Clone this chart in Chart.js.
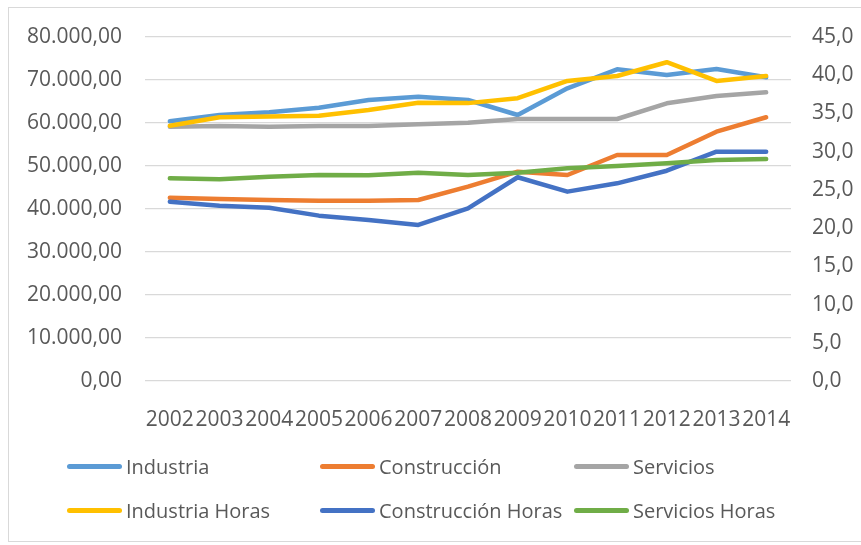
<!DOCTYPE html>
<html>
<head>
<meta charset="utf-8">
<script src="https://cdn.jsdelivr.net/npm/chart.js@4/dist/chart.umd.min.js"></script>
<style>
	body { margin: 0; background: #fff; }
	#wrap { position: relative; width: 861px; height: 545px; overflow: hidden; }
	#frame { position: absolute; left: 8px; top: 7px; width: 860px; height: 535px; border: 1px solid #d9d9d9; box-sizing: border-box; }
	#chartBox { position: absolute; left: 0; top: 0; width: 861px; height: 440px; }
	#legend { position: absolute; left: 0; top: 0; width: 861px; height: 545px; font-family: "Open Sans", sans-serif; font-size: 20px; color: #595959; }
	.item { position: absolute; display: flex; align-items: center; height: 30px; white-space: nowrap; }
	.mark { display: inline-block; width: 55px; height: 5px; border-radius: 3px; margin-right: 4px; }
</style>
</head>
<body>
<div id="wrap">
	<div id="frame"></div>
	<div id="chartBox"><canvas id="chart-area" width="861" height="440"></canvas></div>
	<div id="legend"></div>
</div>
<script>
/*
 * 数据
 */
var years = ["2002", "2003", "2004", "2005", "2006", "2007", "2008", "2009", "2010", "2011", "2012", "2013", "2014"];
var industria = [60400, 61860, 62490, 63560, 65350, 66120, 65350, 61860, 68070, 72490, 71160, 72560, 70630];
var construccion = [42630, 42330, 42090, 41940, 41940, 42090, 45190, 48680, 47910, 52560, 52560, 57980, 61330];
var servicios = [59140, 59300, 59140, 59300, 59300, 59700, 60070, 60930, 60930, 60930, 64580, 66280, 67130];
var industriaHoras = [33.4, 34.5, 34.6, 34.7, 35.45, 36.4, 36.35, 37.0, 39.25, 39.9, 41.7, 39.25, 39.9];
var construccionHoras = [23.45, 22.93, 22.67, 21.63, 21.06, 20.41, 22.59, 26.65, 24.77, 25.86, 27.51, 30.0, 30.0];
var serviciosHoras = [26.52, 26.39, 26.73, 26.95, 26.9, 27.25, 26.95, 27.25, 27.82, 28.13, 28.48, 28.91, 29.04];
var leftTicks = { min: 0, max: 80000, step: 10000 };
var rightTicks = { min: 0, max: 45, step: 5 };

var textColor = "#595959";
var fontSpec = { family: "Open Sans", size: 21 };

function fmtLeft(v) {
	var s = Number(v).toFixed(2).split(".");
	var ent = s[0].replace(/\B(?=(\d{3})+(?!\d))/g, ".");
	return ent + "," + s[1];
}
function fmtRight(v) {
	return Number(v).toFixed(1).replace(".", ",");
}

function serie(label, data, color, axis) {
	return {
		label : label,
		data : data,
		borderColor : color,
		backgroundColor : color,
		borderWidth : 4.5,
		borderCapStyle : "round",
		borderJoinStyle : "round",
		pointRadius : 0,
		tension : 0,
		yAxisID : axis
	};
}

var datasets = [
	serie("Industria", industria, "#5B9BD5", "y"),
	serie("Construcción", construccion, "#ED7D31", "y"),
	serie("Servicios", servicios, "#A5A5A5", "y"),
	serie("Industria Horas", industriaHoras, "#FFC000", "y1"),
	serie("Construcción Horas", construccionHoras, "#4472C4", "y1"),
	serie("Servicios Horas", serviciosHoras, "#70AD47", "y1")
];
// orden de dibujo como en Excel: las primeras series quedan debajo
datasets.forEach(function(d, i) { d.order = datasets.length - i; });

var config = {
	type : "line",
	data : { labels : years, datasets : datasets },
	options : {
		responsive : false,
		animation : false,
		layout : { padding : { top : 37, left : 0, right : 0, bottom : 0 } },
		plugins : { legend : { display : false }, tooltip : { enabled : false } },
		scales : {
			x : {
				offset : true,
				grid : { display : false },
				border : { display : false },
				ticks : { autoSkip : false, maxRotation : 0, minRotation : 0, padding : 18, color : textColor, font : fontSpec },
				afterFit : function(s) { s.height = 59; }
			},
			y : {
				position : "left",
				min : leftTicks.min, max : leftTicks.max,
				grid : { color : "#d9d9d9", lineWidth : 1.3, drawTicks : false },
				border : { display : false },
				ticks : { stepSize : leftTicks.step, padding : 23, color : textColor, font : fontSpec, callback : fmtLeft },
				afterFit : function(s) { s.width = 145; }
			},
			y1 : {
				position : "right",
				min : rightTicks.min, max : rightTicks.max,
				grid : { display : false, drawTicks : false },
				border : { display : false },
				ticks : { stepSize : rightTicks.step, padding : 21, color : textColor, font : fontSpec, callback : fmtRight },
				afterFit : function(s) { s.width = 70; }
			}
		}
	}
};

var ctx = document.getElementById("chart-area").getContext("2d");
window.myLine = new Chart(ctx, config);

/*
 * leyenda en dos filas de tres columnas
 */
var colX = [67, 320, 574];
var rowY = [466, 510];
var legendBox = document.getElementById("legend");
for (var i = 0; i < datasets.length; i++) {
	var item = document.createElement("div");
	item.className = "item";
	item.style.left = colX[i % 3] + "px";
	item.style.top = (rowY[Math.floor(i / 3)] - 15) + "px";
	var mark = document.createElement("span");
	mark.className = "mark";
	mark.style.background = datasets[i].borderColor;
	item.appendChild(mark);
	item.appendChild(document.createTextNode(datasets[i].label));
	legendBox.appendChild(item);
}
</script>
</body>
</html>
